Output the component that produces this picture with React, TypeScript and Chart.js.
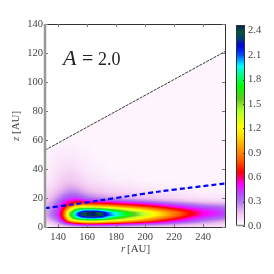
import React, { useEffect, useRef } from "react";
import { Chart, registerables } from "chart.js";

Chart.register(...registerables);

const rGrid = [131, 136, 140, 144, 148, 152, 156, 160, 165, 170, 175, 180, 190, 200, 210, 220, 230, 240, 255];
const zGrid = [0, 2, 4, 6, 8, 10, 12, 14, 16, 18, 20, 24, 28, 32, 40, 50, 60, 125];
const density = [
  [.02, .04, .06, .08, .10, .12, .14, .16, .16, .16, .15, .14, .12, .10, .09, .08, .07, .06, .05],
  [.05, .10, .16, .28, .40, .50, .56, .60, .60, .58, .55, .52, .45, .38, .32, .24, .19, .15, .10],
  [.10, .18, .28, .52, .90, 1.1, 1.2, 1.3, 1.3, 1.25, 1.15, 1.1, .95, .80, .65, .50, .38, .28, .18],
  [.14, .25, .36, .70, 1.3, 1.75, 1.95, 2.05, 2.05, 2.0, 1.8, 1.65, 1.35, 1.1, .88, .70, .52, .40, .29],
  [.17, .30, .42, .80, 1.5, 2.0, 2.3, 2.42, 2.45, 2.35, 2.1, 1.95, 1.65, 1.35, 1.1, .85, .66, .50, .38],
  [.17, .30, .42, .80, 1.45, 1.95, 2.25, 2.42, 2.45, 2.3, 2.05, 1.9, 1.6, 1.32, 1.08, .85, .68, .52, .40],
  [.16, .28, .40, .70, 1.15, 1.6, 1.85, 1.9, 1.9, 1.8, 1.65, 1.5, 1.25, 1.05, .86, .70, .56, .45, .36],
  [.15, .26, .38, .60, .85, 1.1, 1.2, 1.2, 1.15, 1.1, 1.05, .98, .85, .74, .62, .50, .41, .34, .28],
  [.14, .24, .34, .50, .65, .78, .80, .76, .72, .70, .67, .63, .56, .49, .41, .33, .27, .22, .18],
  [.12, .20, .30, .42, .50, .58, .55, .48, .44, .42, .40, .37, .32, .27, .22, .18, .14, .11, .09],
  [.10, .17, .24, .33, .38, .40, .36, .30, .27, .25, .22, .20, .17, .14, .11, .09, .07, .06, .05],
  [.07, .12, .17, .22, .26, .26, .22, .18, .15, .13, .11, .10, .08, .07, .06, .05, .04, .03, .03],
  [.05, .08, .12, .16, .18, .17, .14, .11, .09, .08, .07, .06, .05, .04, .03, .03, .02, .02, .02],
  [.04, .06, .09, .12, .13, .12, .10, .07, .06, .05, .04, .03, .03, .02, .02, .02, .02, .02, .02],
  [.02, .04, .06, .07, .08, .07, .05, .04, .03, .03, .02, .02, .02, .02, .02, .02, .02, .02, .02],
  [.02, .03, .04, .04, .04, .04, .03, .03, .02, .02, .02, .02, .02, .02, .02, .02, .02, .02, .02],
  [.02, .02, .02, .02, .02, .02, .02, .02, .02, .02, .02, .02, .02, .02, .02, .02, .02, .02, .02],
  [.02, .02, .02, .02, .02, .02, .02, .02, .02, .02, .02, .02, .02, .02, .02, .02, .02, .02, .02],
];

const upperR = [131, 255];
const upperZ = [53, 121];
const dashedR = [131, 150, 170, 190, 210, 230, 255];
const dashedZ = [13, 15.5, 18.5, 21.5, 24.5, 27, 30];

const xTickValues = [140, 160, 180, 200, 220, 240];
const yTickValues = [0, 20, 40, 60, 80, 100, 120, 140];
const cbTickValues = [0, 0.3, 0.6, 0.9, 1.2, 1.5, 1.8, 2.1, 2.4];
const CB_MAX = 2.47;

const cmapLevels = [0, .02, .04, .15, .30, .40, .50, .58, .65, .80, .95, 1.1, 1.2, 1.4, 1.55, 1.7, 1.85, 1.95, 2.1, 2.2, 2.3, 2.38, 2.47];
const cmapColors: number[][] = [
  [255, 255, 255], [253, 244, 253], [251, 234, 251], [238, 190, 238], [176, 112, 240], [190, 64, 255], [255, 0, 255],
  [255, 0, 110], [255, 0, 0], [255, 96, 0], [255, 160, 0], [255, 224, 0], [255, 255, 0],
  [176, 255, 48], [96, 200, 32], [0, 255, 0], [0, 255, 144], [0, 255, 255], [0, 64, 255],
  [0, 0, 224], [0, 70, 100], [0, 90, 50], [0, 0, 128],
];

const FONT = '"Liberation Serif", serif';
const TEXT = "#444";

function colorAt(v: number): number[] {
  if (v <= cmapLevels[0]) return cmapColors[0];
  for (let i = 1; i < cmapLevels.length; i++) {
    if (v <= cmapLevels[i]) {
      const t = (v - cmapLevels[i - 1]) / (cmapLevels[i] - cmapLevels[i - 1]);
      const a = cmapColors[i - 1], b = cmapColors[i];
      return [a[0] + (b[0] - a[0]) * t, a[1] + (b[1] - a[1]) * t, a[2] + (b[2] - a[2]) * t];
    }
  }
  return cmapColors[cmapColors.length - 1];
}

function cellIndex(axis: number[], v: number): [number, number] {
  let i = 0;
  while (i < axis.length - 2 && v > axis[i + 1]) i++;
  const t = Math.max(0, Math.min(1, (v - axis[i]) / (axis[i + 1] - axis[i])));
  return [i, t];
}

function sampleField(r: number, z: number): number {
  const [i, s] = cellIndex(rGrid, r);
  const [j, t] = cellIndex(zGrid, z);
  const a = density[j][i], b = density[j][i + 1], c = density[j + 1][i], d = density[j + 1][i + 1];
  return (a * (1 - s) + b * s) * (1 - t) + (c * (1 - s) + d * s) * t;
}

const heatPlugin = {
  id: "heat",
  beforeDatasetsDraw(chart: any) {
    const { ctx, chartArea: a, scales } = chart;
    const w = Math.round(a.right - a.left), h = Math.round(a.bottom - a.top);
    const off = document.createElement("canvas");
    off.width = w; off.height = h;
    const octx = off.getContext("2d")!;
    const img = octx.createImageData(w, h);
    for (let py = 0; py < h; py++) {
      const z = scales.y.getValueForPixel(a.top + py + 0.5);
      for (let px = 0; px < w; px++) {
        const r = scales.x.getValueForPixel(a.left + px + 0.5);
        const limit = upperZ[0] + ((upperZ[1] - upperZ[0]) * (r - upperR[0])) / (upperR[1] - upperR[0]);
        const c = z > limit ? [255, 255, 255] : colorAt(sampleField(r, z));
        const k = (py * w + px) * 4;
        img.data[k] = c[0]; img.data[k + 1] = c[1]; img.data[k + 2] = c[2]; img.data[k + 3] = 255;
      }
    }
    octx.putImageData(img, 0, 0);
    ctx.drawImage(off, Math.round(a.left), Math.round(a.top));
  },
  afterDraw(chart: any) {
    const { ctx, chartArea: a, scales } = chart;
    ctx.save();
    ctx.strokeStyle = "#333";
    ctx.lineWidth = 1;
    ctx.beginPath();
    ctx.moveTo(a.left, a.top + 0.5); ctx.lineTo(a.right + 0.5, a.top + 0.5);
    ctx.lineTo(a.right + 0.5, a.bottom + 0.5); ctx.lineTo(a.left, a.bottom + 0.5);
    ctx.stroke();
    ctx.strokeStyle = "#777";
    ctx.beginPath();
    for (const v of xTickValues) {
      const x = Math.round(scales.x.getPixelForValue(v)) + 0.5;
      ctx.moveTo(x, a.bottom); ctx.lineTo(x, a.bottom - 3);
      ctx.moveTo(x, a.top); ctx.lineTo(x, a.top + 3);
    }
    for (const v of yTickValues) {
      const y = Math.round(scales.y.getPixelForValue(v)) + 0.5;
      ctx.moveTo(a.left, y); ctx.lineTo(a.left + 3, y);
      ctx.moveTo(a.right, y); ctx.lineTo(a.right - 3, y);
    }
    ctx.stroke();
    ctx.strokeStyle = "#999";
    ctx.lineWidth = 2.5;
    ctx.beginPath();
    ctx.moveTo(a.left, a.top); ctx.lineTo(a.left, a.bottom + 1);
    ctx.stroke();

    ctx.fillStyle = "#222";
    ctx.textBaseline = "alphabetic";
    ctx.font = `italic 22px ${FONT}`;
    ctx.fillText("A", 63, 65);
    ctx.font = `20px ${FONT}`;
    ctx.fillText("=", 82, 65);
    ctx.font = `18px ${FONT}`;
    ctx.fillText("2.0", 98, 65);

    ctx.fillStyle = TEXT;
    ctx.font = `italic 11px ${FONT}`;
    ctx.fillText("r", 121, 252);
    ctx.font = `11px ${FONT}`;
    ctx.fillText("[AU]", 127, 252);
    ctx.save();
    ctx.translate(19, 141);
    ctx.rotate(-Math.PI / 2);
    ctx.font = `italic 11px ${FONT}`;
    ctx.fillText("z", 0, 0);
    ctx.font = `11px ${FONT}`;
    ctx.fillText("[AU]", 7, 0);
    ctx.restore();
    ctx.restore();
  },
};

const cbFramePlugin = {
  id: "cbFrame",
  afterDraw(chart: any) {
    const { ctx, chartArea: a, scales } = chart;
    ctx.save();
    ctx.strokeStyle = "#333";
    ctx.lineWidth = 1;
    ctx.strokeRect(a.left + 0.5, a.top + 0.5, a.right - a.left - 1, a.bottom - a.top - 1);
    ctx.beginPath();
    for (const v of cbTickValues) {
      const y = Math.round(scales.y.getPixelForValue(v)) + 0.5;
      ctx.moveTo(a.right, y); ctx.lineTo(a.right - 2, y);
    }
    ctx.stroke();
    ctx.strokeStyle = "#888";
    ctx.lineWidth = 1.5;
    ctx.beginPath();
    ctx.moveTo(a.left, a.bottom - 0.5); ctx.lineTo(a.right, a.bottom - 0.5);
    ctx.stroke();
    ctx.restore();
  },
};

const toHex = (c: number[]) => `rgb(${c.map((n) => Math.round(n)).join(",")})`;

export default function App() {
  const mainRef = useRef<HTMLCanvasElement>(null);
  const barRef = useRef<HTMLCanvasElement>(null);

  useEffect(() => {
    const tickFont = { family: FONT, size: 10.5 };
    const main = new Chart(mainRef.current!, {
      type: "scatter",
      data: {
        datasets: [
          {
            data: upperR.map((x, i) => ({ x, y: upperZ[i] })),
            showLine: true,
            borderColor: "#222",
            borderWidth: 0.9,
            borderDash: [3, 1],
            pointRadius: 0,
          },
          {
            data: dashedR.map((x, i) => ({ x, y: dashedZ[i] })),
            showLine: true,
            borderColor: "#0000ff",
            borderWidth: 2.2,
            borderDash: [5, 3],
            tension: 0.3,
            pointRadius: 0,
          },
        ],
      },
      options: {
        animation: false,
        responsive: false,
        layout: { padding: { left: 0, top: 24, right: 49, bottom: 0 } },
        plugins: { legend: { display: false }, tooltip: { enabled: false } },
        scales: {
          x: {
            type: "linear",
            min: 131,
            max: 255,
            grid: { display: false, drawTicks: false },
            border: { display: false },
            afterBuildTicks: (s: any) => { s.ticks = xTickValues.map((value) => ({ value })); },
            afterFit: (s: any) => { s.height = 47; },
            ticks: { font: tickFont, color: TEXT, padding: 4, maxRotation: 0, autoSkip: false },
          },
          y: {
            type: "linear",
            min: 0,
            max: 140,
            grid: { display: false, drawTicks: false },
            border: { display: false },
            afterBuildTicks: (s: any) => { s.ticks = yTickValues.map((value) => ({ value })); },
            afterFit: (s: any) => { s.width = 45; },
            ticks: { font: tickFont, color: TEXT, padding: 2, autoSkip: false },
          },
        },
      },
      plugins: [heatPlugin],
    } as any);

    const barSets: any[] = [];
    for (let i = 0; i < 82; i++) {
      const lo = (i * CB_MAX) / 82, hi = ((i + 1) * CB_MAX) / 82;
      barSets.push({
        data: [[lo, Math.min(hi + 0.012, CB_MAX)]],
        backgroundColor: toHex(colorAt((lo + hi) / 2)),
        grouped: false,
        barPercentage: 1,
        categoryPercentage: 1,
        borderWidth: 0,
      });
    }
    const bar = new Chart(barRef.current!, {
      type: "bar",
      data: { labels: ["density"], datasets: barSets },
      options: {
        animation: false,
        responsive: false,
        layout: { padding: { left: 8, top: 25, right: 0, bottom: 0 } },
        plugins: { legend: { display: false }, tooltip: { enabled: false } },
        scales: {
          x: { display: false, afterFit: (s: any) => { s.height = 48; } },
          y: {
            position: "right",
            min: 0,
            max: CB_MAX,
            grid: { display: false, drawTicks: false },
            border: { display: false },
            afterBuildTicks: (s: any) => { s.ticks = cbTickValues.map((value) => ({ value })); },
            afterFit: (s: any) => { s.width = 29; },
            ticks: {
              font: tickFont,
              color: TEXT,
              padding: 3,
              autoSkip: false,
              callback: (v: any) => Number(v).toFixed(1),
            },
          },
        },
      },
      plugins: [cbFramePlugin],
    } as any);

    return () => {
      main.destroy();
      bar.destroy();
    };
  }, []);

  return (
    <div style={{ position: "absolute", left: 0, top: 0, width: 274, height: 274, background: "#fff" }}>
      <canvas ref={mainRef} width={274} height={274} style={{ position: "absolute", left: 0, top: 0 }} />
      <canvas ref={barRef} width={46} height={274} style={{ position: "absolute", left: 228, top: 0 }} />
    </div>
  );
}
